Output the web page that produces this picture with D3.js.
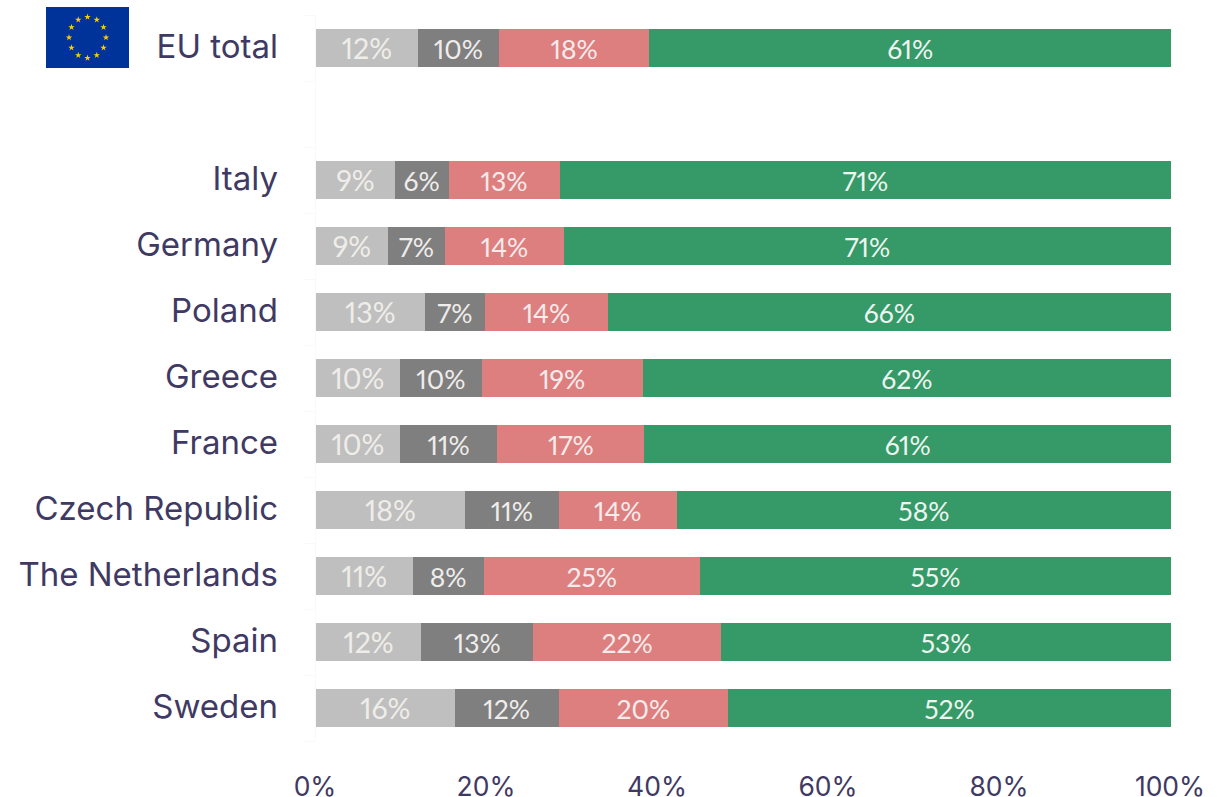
<!DOCTYPE html>
<html><head><meta charset="utf-8">
<script src="https://cdnjs.cloudflare.com/ajax/libs/d3/7.8.5/d3.min.js"></script>
<style>html,body{margin:0;padding:0;background:#fff;overflow:hidden}svg{display:block}</style>
</head><body><svg id="c" width="1226" height="797"></svg>
<script>
const categories=["EU total","","Italy","Germany","Poland","Greece","France","Czech Republic","The Netherlands","Spain","Sweden"];
const seriesA=[11.9,null,9.2,8.4,12.7,9.8,9.8,17.4,11.3,12.3,16.2];
const seriesB=[9.5,null,6.3,6.7,7.1,9.6,11.4,11.0,8.3,13.1,12.2];
const seriesC=[17.6,null,13.0,13.9,14.3,18.8,17.2,13.8,25.3,22.0,19.8];
const seriesD=[61.0,null,71.5,71.0,65.9,61.8,61.6,57.8,55.1,52.6,51.8];
const labelsA=["12%","","9%","9%","13%","10%","10%","18%","11%","12%","16%"];
const labelsB=["10%","","6%","7%","7%","10%","11%","11%","8%","13%","12%"];
const labelsC=["18%","","13%","14%","14%","19%","17%","14%","25%","22%","20%"];
const labelsD=["61%","","71%","71%","66%","62%","61%","58%","55%","53%","52%"];
const xTicks=[0,20,40,60,80,100];
const colors=["#bfbfbf","#7f7f7f","#de7f7f","#359a67"];
const textColors=["#efede9","#efedeb","#f5ebeb","#eef5f0"];
const labelSizes=[28.5,26.5,26.5,26.5];
const ink="#3f3a63";
const series=[seriesA,seriesB,seriesC,seriesD];
const labels=[labelsA,labelsB,labelsC,labelsD];

const svg=d3.select("#c");
const x=d3.scaleLinear().domain([0,100]).range([316,1171]);
const y=d3.scaleBand().domain(d3.range(categories.length)).range([15,741]).paddingInner(28/66).paddingOuter(14/66);

const bandEdges=d3.range(categories.length+1).map(i=>15+i*y.step());
svg.append("line").attr("x1",315.5).attr("x2",315.5).attr("y1",15).attr("y2",741).attr("stroke","#f9f9f9");
svg.selectAll("line.t").data(bandEdges).join("line").attr("class","t")
  .attr("x1",303).attr("x2",315).attr("y1",d=>d+.5).attr("y2",d=>d+.5).attr("stroke","#f9f9f9");

categories.forEach((c,i)=>{
  if(!c) return;
  let acc=0;
  series.forEach((s,k)=>{
    const v=s[i], x0=x(acc), x1=x(acc+v); acc+=v;
    svg.append("rect").attr("x",x0).attr("y",y(i)).attr("width",x1-x0).attr("height",y.bandwidth()).attr("fill",colors[k]).attr("shape-rendering","crispEdges");
    svg.append("text").attr("x",(x0+x1)/2).attr("y",y(i)+y.bandwidth()/2+10.5)
      .attr("text-anchor","middle").attr("font-family","Lato").attr("font-size",labelSizes[k])
      .attr("font-weight",400).style("font-feature-settings","'pnum'")
      .attr("fill",textColors[k]).text(labels[k][i]);
  });
  svg.append("text").attr("x",278).attr("y",y(i)+y.bandwidth()/2+9.5)
    .attr("text-anchor","end").attr("font-family","Inter").attr("font-size",33).attr("font-weight",400)
    .attr("fill",ink).text(c);
});

svg.selectAll("text.x").data(xTicks).join("text").attr("class","x")
  .attr("x",d=>x(d)-1).attr("y",796).attr("text-anchor","middle")
  .attr("font-family","Inter").attr("font-size",26.5).attr("font-weight",400).attr("fill",ink).text(d=>d+"%");

const flag=svg.append("g").attr("transform","translate(46,7)");
flag.append("rect").attr("width",83).attr("height",61).attr("fill","#003399");
const star=d3.symbol().type(d3.symbolStar).size(13)();
flag.selectAll("path").data(d3.range(12)).join("path").attr("d",star).attr("fill","#ffcc00")
  .attr("transform",d=>{const a=d*Math.PI/6;return `translate(${41.5+18.5*Math.sin(a)},${30.5-20.5*Math.cos(a)})`;});
</script></body></html>
